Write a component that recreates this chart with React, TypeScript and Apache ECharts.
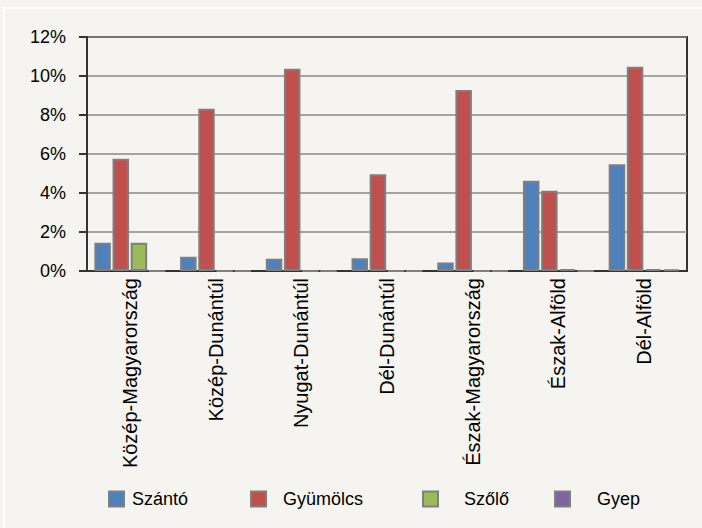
import React, { useEffect, useRef } from "react";
import * as echarts from "echarts";

const categories = [
  "Közép-Magyarország",
  "Közép-Dunántúl",
  "Nyugat-Dunántúl",
  "Dél-Dunántúl",
  "Észak-Magyarország",
  "Észak-Alföld",
  "Dél-Alföld",
];
const seriesNames = ["Szántó", "Gyümölcs", "Szőlő", "Gyep"];
const szanto = [1.45, 0.73, 0.63, 0.65, 0.43, 4.63, 5.47];
const gyumolcs = [5.76, 8.32, 10.37, 4.96, 9.28, 4.12, 10.48];
const szolo = [1.45, 0, 0, 0, 0, 0.1, 0.1];
const gyep = [0, 0, 0, 0, 0, 0, 0.07];
const colors = ["#4f81bd", "#c0504d", "#9bbb59", "#8064a2"];
const legendLeft = [108, 250, 422, 554];
const legendTextGap = [3, 12, 21, 22];

const font = "'Liberation Sans', Arial, sans-serif";

export default function App() {
  const ref = useRef<HTMLDivElement>(null);
  useEffect(() => {
    if (!ref.current) return;
    const chart = echarts.init(ref.current, undefined, { renderer: "svg" });
    const values = [szanto, gyumolcs, szolo, gyep];
    chart.setOption({
      animation: false,
      backgroundColor: "#f6f4f0",
      graphic: [
        {
          type: "rect",
          silent: true,
          shape: { x: 4, y: 8, width: 720, height: 540 },
          style: { fill: "none", stroke: "#ffffff", lineWidth: 2 },
        },
      ],
      legend: seriesNames.map((n, i) => ({
        data: [n],
        left: legendLeft[i],
        top: 490,
        padding: 0,
        itemWidth: 15,
        itemHeight: 15,
        icon: "rect",
        textStyle: {
          fontFamily: font,
          fontSize: 18,
          color: "#000",
          padding: [0, 0, 0, legendTextGap[i]],
        },
      })),
      grid: {
        left: 87,
        top: 37,
        right: 15,
        bottom: 257,
        containLabel: false,
        outerBoundsMode: "none",
        show: true,
        borderColor: "#333",
        borderWidth: 2,
        backgroundColor: "transparent",
      },
      xAxis: {
        type: "category",
        data: categories,
        axisLine: { lineStyle: { color: "#333", width: 2 } },
        axisTick: { show: false },
        axisLabel: {
          rotate: 90,
          interval: 0,
          margin: 7,
          fontFamily: font,
          fontSize: 20,
          color: "#000",
          overflow: "none",
        },
      },
      yAxis: {
        type: "value",
        min: 0,
        max: 12,
        interval: 2,
        axisLine: { show: true, lineStyle: { color: "#333", width: 2 } },
        axisTick: { show: true, length: 8, lineStyle: { color: "#333", width: 2 } },
        axisLabel: {
          formatter: "{value}%",
          margin: 21,
          fontFamily: font,
          fontSize: 18,
          color: "#000",
        },
        splitLine: { lineStyle: { color: "#8a8a8a", width: 1.5 } },
      },
      series: seriesNames.map((n, i) => ({
        name: n,
        type: "bar",
        data: values[i],
        barWidth: 16.5,
        barGap: "10%",
        itemStyle: { color: colors[i], borderColor: "#7f7f7f", borderWidth: 2 },
      })),
    });
    return () => chart.dispose();
  }, []);
  return (
    <div
      ref={ref}
      style={{ position: "absolute", left: 0, top: 0, width: 702, height: 528 }}
    />
  );
}
